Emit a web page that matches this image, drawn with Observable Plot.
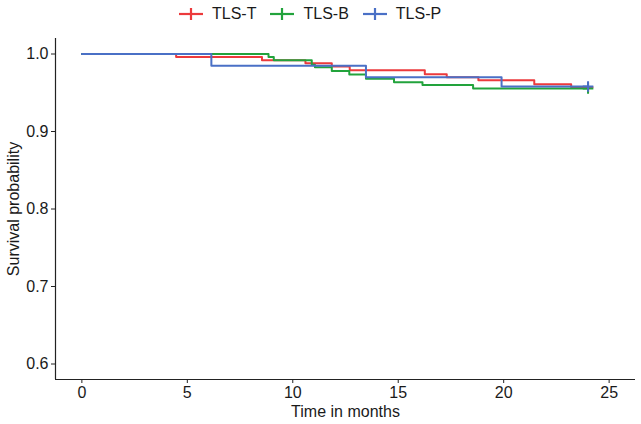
<!DOCTYPE html>
<html>
<head>
<meta charset="utf-8">
<script src="https://cdn.jsdelivr.net/npm/d3@7"></script>
<script src="https://cdn.jsdelivr.net/npm/@observablehq/plot@0.6"></script>
<style>
  html, body { margin: 0; padding: 0; background: #fff; }
  body { width: 641px; height: 424px; overflow: hidden; font-family: "Liberation Sans", Arial, sans-serif; }
  #legend { height: 28px; display: flex; align-items: center; padding-left: 179px; font-size: 16px; color: #1a1a1a; }
  .item { display: flex; align-items: center; margin-right: 14px; }
  .item svg { margin-right: 9px; }
</style>
</head>
<body>
<div id="legend"></div>
<div id="chart"></div>
<script>
const groups = ["TLS-T", "TLS-B", "TLS-P"];
const colors = ["#EC3A3C", "#22A33C", "#4A70C6"];

const timesT = [0, 4.47, 8.54, 10.6, 11.85, 12.7, 16.26, 17.3, 18.8, 21.45, 23.2, 24.0];
const survT  = [1.0, 0.996, 0.992, 0.988, 0.984, 0.979, 0.974, 0.970, 0.966, 0.961, 0.957, 0.957];

const timesB = [0, 8.85, 9.1, 10.9, 11.05, 11.85, 12.68, 13.47, 14.8, 16.15, 18.55, 24.0];
const survB  = [1.0, 0.996, 0.992, 0.986, 0.983, 0.978, 0.9735, 0.968, 0.9635, 0.960, 0.9555, 0.9555];

const timesP = [0, 6.14, 13.47, 19.9, 24.0];
const survP  = [1.0, 0.985, 0.970, 0.958, 0.958];

const xTicks = [0, 5, 10, 15, 20, 25];
const yTicks = [0.6, 0.7, 0.8, 0.9, 1.0];
const xDomain = [-1.25, 26.25];
const yDomain = [0.58, 1.02];

const series = [[timesT, survT], [timesB, survB], [timesP, survP]];
const data = [];
const censor = [];
series.forEach(([t, s], gi) => {
  t.forEach((v, i) => data.push({group: groups[gi], time: v, surv: s[i]}));
  censor.push({group: groups[gi], time: t[t.length - 1], surv: s[s.length - 1]});
});

// legend
const leg = document.getElementById("legend");
groups.forEach((g, i) => {
  const d = document.createElement("div");
  d.className = "item";
  d.innerHTML = `<svg width="24" height="14"><line x1="0" y1="7" x2="24" y2="7" stroke="${colors[i]}" stroke-width="2.2"/><line x1="12" y1="1" x2="12" y2="13" stroke="${colors[i]}" stroke-width="2.2"/></svg><span>${g}</span>`;
  leg.appendChild(d);
});

const plot = Plot.plot({
  width: 641,
  height: 396,
  marginTop: 10,
  marginBottom: 45,
  marginLeft: 55,
  marginRight: 6,
  style: { fontFamily: "Liberation Sans, Arial, sans-serif", fontSize: "16px", color: "#1a1a1a", background: "#fff" },
  x: { domain: xDomain, ticks: xTicks },
  y: { domain: yDomain, ticks: yTicks },
  color: { domain: groups, range: colors },
  marks: [
    Plot.ruleX([xDomain[0]], { stroke: "#222", strokeWidth: 1.2 }),
    Plot.ruleY([yDomain[0]], { stroke: "#222", strokeWidth: 1.2 }),
    Plot.axisX({ ticks: xTicks, tickSize: 4, tickPadding: 3, stroke: "#222", fill: "#1a1a1a", fontSize: 16,
      label: "Time in months", labelAnchor: "center", labelArrow: "none", labelOffset: 37 }),
    Plot.axisY({ ticks: yTicks, tickSize: 4, tickPadding: 3, tickFormat: d3.format(".1f"), stroke: "#222", fill: "#1a1a1a", fontSize: 16,
      label: "Survival probability", labelAnchor: "center", labelArrow: "none", labelOffset: 48 }),
    Plot.line(data, { x: "time", y: "surv", z: "group", stroke: "group", curve: "step-after", strokeWidth: 2 }),
    Plot.dot(censor, { x: "time", y: "surv", stroke: "group", symbol: "plus", r: 3.5, strokeWidth: 2 })
  ]
});
document.getElementById("chart").appendChild(plot);
</script>
</body>
</html>
